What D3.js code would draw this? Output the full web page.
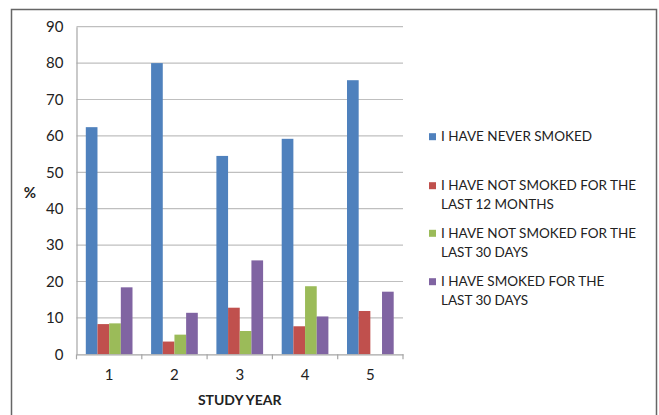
<!DOCTYPE html>
<html>
<head>
<meta charset="utf-8">
<script src="https://cdn.jsdelivr.net/npm/d3@7"></script>
<style>
  html, body { margin: 0; padding: 0; background: #fff; }
  svg { display: block; font-family: Lato, "Open Sans", sans-serif; }
</style>
</head>
<body>
<svg id="chart" width="659" height="415"></svg>
<script>
// Study years on the x axis
const years = ["1", "2", "3", "4", "5"];

// Smoking status series (percent of respondents)
const seriesNames = [
  "I HAVE NEVER SMOKED",
  "I HAVE NOT SMOKED FOR THE LAST 12 MONTHS",
  "I HAVE NOT SMOKED FOR THE LAST 30 DAYS",
  "I HAVE SMOKED FOR THE LAST 30 DAYS"
];
const neverSmoked   = [62.4, 80.0, 54.5, 59.2, 75.3];
const notFor12Months = [8.3, 3.5, 12.8, 7.7, 11.9];
const notFor30Days  = [8.5, 5.4, 6.4, 18.7, 0];
const smoked30Days  = [18.4, 11.4, 25.8, 10.4, 17.2];

// Legend wording, split over lines
const legendLines = [
  ["I HAVE NEVER SMOKED"],
  ["I HAVE NOT SMOKED FOR THE", "LAST 12 MONTHS"],
  ["I HAVE NOT SMOKED FOR THE", "LAST 30 DAYS"],
  ["I HAVE SMOKED FOR THE", "LAST 30 DAYS"]
];

const yTicks = [0, 10, 20, 30, 40, 50, 60, 70, 80, 90];
const colors = ["#4F81BD", "#C0504D", "#9BBB59", "#8064A2"];

const values = [neverSmoked, notFor12Months, notFor30Days, smoked30Days];
const rows = years.map((y, i) => ({ year: y, vals: values.map(s => s[i]) }));

const svg = d3.select("#chart");

// Outer frame
svg.append("path")
  .attr("d", "M11.5,420 L11.5,9.5 L656.5,9.5 L656.5,420")
  .attr("fill", "none")
  .attr("stroke", "#666")
  .attr("stroke-width", 1.5);

const plot = { left: 76.5, right: 403, top: 26.7, bottom: 354.3 };

const x = d3.scaleBand().domain(years).range([plot.left, plot.right]).padding(0);
const xs = d3.scaleBand().domain(d3.range(seriesNames.length))
  .range([9.3, x.bandwidth() - 9.3]).padding(0);
const y = d3.scaleLinear().domain([0, 90]).range([plot.bottom, plot.top]);

// Horizontal gridlines
svg.append("g").selectAll("line").data(yTicks.filter(d => d > 0)).join("line")
  .attr("x1", plot.left).attr("x2", plot.right)
  .attr("y1", d => y(d)).attr("y2", d => y(d))
  .attr("stroke", "#bfbfbf").attr("stroke-width", 1.2);

// Y axis
const yAxis = svg.append("g")
  .attr("transform", `translate(${plot.left},0)`)
  .call(d3.axisLeft(y).tickValues(yTicks).tickSize(0).tickPadding(13));
yAxis.select(".domain").attr("stroke", "#a6a6a6").attr("stroke-width", 1.2);
yAxis.selectAll("text").attr("font-size", 15).attr("fill", "#222")
  .attr("font-family", "Lato, 'Open Sans', sans-serif");

// Bars
const groups = svg.append("g").selectAll("g").data(rows).join("g")
  .attr("transform", d => `translate(${x(d.year)},0)`);
groups.selectAll("rect").data(d => d.vals.map((v, i) => ({ v, i }))).join("rect")
  .attr("x", d => xs(d.i))
  .attr("width", xs.bandwidth())
  .attr("y", d => y(d.v))
  .attr("height", d => y(0) - y(d.v))
  .attr("fill", d => colors[d.i]);

// X axis
const xAxis = svg.append("g")
  .attr("transform", `translate(0,${plot.bottom})`)
  .call(d3.axisBottom(x).tickSize(0).tickPadding(15));
xAxis.select(".domain").attr("stroke", "#a6a6a6").attr("stroke-width", 1.2);
xAxis.selectAll("text").attr("font-size", 15).attr("fill", "#222")
  .attr("font-family", "Lato, 'Open Sans', sans-serif");
// Category separator ticks
svg.append("g").selectAll("line")
  .data(years.map(d => x(d)).concat([plot.right]))
  .join("line")
  .attr("x1", d => d).attr("x2", d => d)
  .attr("y1", plot.bottom).attr("y2", plot.bottom + 5)
  .attr("stroke", "#a6a6a6").attr("stroke-width", 1.2);

// Axis titles
svg.append("text").attr("x", 30).attr("y", 198)
  .attr("text-anchor", "middle").attr("font-size", 15).attr("font-weight", "bold")
  .attr("fill", "#222").text("%");
svg.append("text").attr("x", (plot.left + plot.right) / 2).attr("y", 405)
  .attr("text-anchor", "middle").attr("font-size", 14).attr("font-weight", "bold")
  .attr("fill", "#222").text("STUDY YEAR");

// Legend
const legendTops = [136.7, 185.7, 233.3, 281.7];
const legend = svg.append("g").selectAll("g").data(legendLines).join("g")
  .attr("transform", (d, i) => `translate(429,${legendTops[i]})`);
legend.append("rect").attr("x", 0).attr("y", -3.5).attr("width", 7).attr("height", 7)
  .attr("fill", (d, i) => colors[i]);
legend.each(function(lines) {
  const g = d3.select(this);
  lines.forEach((t, j) => {
    g.append("text").attr("x", 12).attr("y", j * 18.7)
      .attr("dy", "0.35em").attr("font-size", 13.5).attr("fill", "#222").text(t);
  });
});
</script>
</body>
</html>
